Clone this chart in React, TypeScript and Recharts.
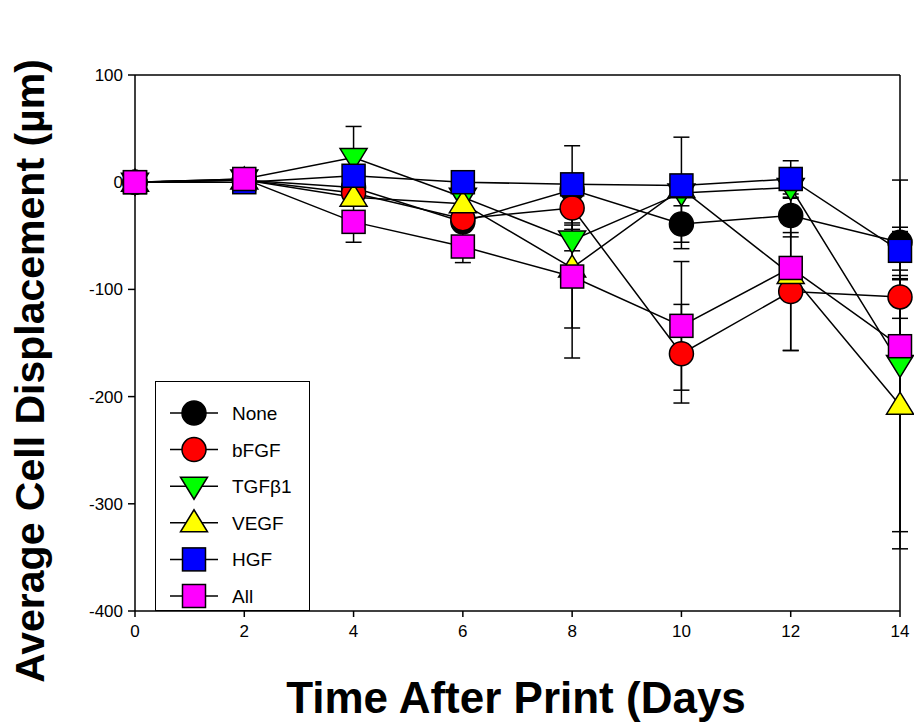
import React from "react";
import {
  LineChart,
  Line,
  XAxis,
  YAxis,
  ErrorBar,
  Legend,
  ReferenceLine,
} from "recharts";

// days after print
const days = [0, 2, 4, 6, 8, 10, 12, 14];

// mean displacement (um)
const noneVals = [0, 2, -5, -37, -7, -39, -31, -56];
const bfgfVals = [0, 2, -10, -34, -24, -160, -102, -107];
const tgfVals = [0, 3, 23, -14, -54, -10, -5, -170];
const vegfVals = [0, 2, -14, -20, -80, -6, -86, -208];
const hgfVals = [0, 0, 6, 0, -2, -3, 3, -64];
const allVals = [0, 3, -37, -60, -88, -134, -80, -153];

// error bar half-widths
const noneErr = [3, 3, 8, 5, 41, 17, 20, 14];
const bfgfErr = [3, 3, 5, 5, 14, 46, 55, 20];
const tgfErr = [3, 3, 29, 6, 10, 52, 10, 172];
const vegfErr = [3, 3, 5, 6, 84, 8, 8, 118];
const hgfErr = [3, 3, 5, 4, 6, 5, 17, 18];
const allErr = [3, 3, 19, 15, 48, 60, 77, 62];

const xTicks = [0, 2, 4, 6, 8, 10, 12, 14];
const yTicks = [-400, -300, -200, -100, 0, 100];

type Shape = "circle" | "down" | "up" | "square";

const series: { key: string; name: string; shape: Shape; color: string }[] = [
  { key: "none", name: "None", shape: "circle", color: "#000000" },
  { key: "bfgf", name: "bFGF", shape: "circle", color: "#ff0000" },
  { key: "tgf", name: "TGF\u03b21", shape: "down", color: "#00ff00" },
  { key: "vegf", name: "VEGF", shape: "up", color: "#ffff00" },
  { key: "hgf", name: "HGF", shape: "square", color: "#0000ff" },
  { key: "all", name: "All", shape: "square", color: "#ff00ff" },
];

const data = days.map((day, i) => ({
  day,
  none: noneVals[i],
  noneErr: noneErr[i],
  bfgf: bfgfVals[i],
  bfgfErr: bfgfErr[i],
  tgf: tgfVals[i],
  tgfErr: tgfErr[i],
  vegf: vegfVals[i],
  vegfErr: vegfErr[i],
  hgf: hgfVals[i],
  hgfErr: hgfErr[i],
  all: allVals[i],
  allErr: allErr[i],
}));

const tickFont = "'Liberation Sans Narrow', 'Arial Narrow', 'Liberation Sans', Arial, sans-serif";

function Marker({ cx, cy, shape, fill }: { cx: number; cy: number; shape: Shape; fill: string }) {
  if (cx == null || cy == null) return null;
  const common = { fill, stroke: "#000", strokeWidth: 1.5 };
  if (shape === "circle") return <circle cx={cx} cy={cy} r={12} {...common} />;
  if (shape === "square")
    return <rect x={cx - 11.5} y={cy - 11.5} width={23} height={23} {...common} />;
  if (shape === "down")
    return (
      <polygon
        points={`${cx - 13.5},${cy - 9} ${cx + 13.5},${cy - 9} ${cx},${cy + 13}`}
        {...common}
      />
    );
  return (
    <polygon
      points={`${cx - 13.5},${cy + 9} ${cx + 13.5},${cy + 9} ${cx},${cy - 13}`}
      {...common}
    />
  );
}

function LegendBox() {
  return (
    <div
      style={{
        width: 155,
        height: 230,
        border: "1.5px solid #000",
        background: "#fff",
        boxSizing: "border-box",
      }}
    >
      <svg width={153} height={228}>
        {series.map((s, i) => {
          const y = 31 + i * 36.6;
          return (
            <g key={s.key}>
              <line x1={14} x2={62} y1={y} y2={y} stroke="#000" strokeWidth={1.5} />
              <Marker cx={38} cy={y} shape={s.shape} fill={s.color} />
              <text
                x={76}
                y={y + 7}
                fontSize={19}
                fontFamily={tickFont}
                fill="#000"
              >
                {s.name}
              </text>
            </g>
          );
        })}
      </svg>
    </div>
  );
}

export default function App() {
  return (
    <div style={{ position: "absolute", left: 0, top: 0, width: 914, height: 724, background: "#fff" }}>
      <LineChart
        width={914}
        height={724}
        data={data}
        margin={{ top: 75, right: 14, bottom: 73, left: 75 }}
      >
        <XAxis
          dataKey="day"
          type="number"
          domain={[0, 14]}
          ticks={xTicks}
          height={40}
          tickSize={6}
          tickMargin={8}
          axisLine={{ stroke: "#000", strokeWidth: 1.5 }}
          tickLine={{ stroke: "#000", strokeWidth: 1.5 }}
          tick={{ fill: "#000", fontSize: 17, fontFamily: tickFont }}
        />
        <YAxis
          type="number"
          domain={[-400, 100]}
          ticks={yTicks}
          width={60}
          tickSize={7}
          tickMargin={5}
          axisLine={{ stroke: "#000", strokeWidth: 1.5 }}
          tickLine={{ stroke: "#000", strokeWidth: 1.5 }}
          tick={{ fill: "#000", fontSize: 17, fontFamily: tickFont }}
        />
        <ReferenceLine y={100} stroke="#000" strokeWidth={1.5} />
        <ReferenceLine x={14} stroke="#000" strokeWidth={1.5} />
        {series.map((s) => (
          <Line
            key={s.key}
            dataKey={s.key}
            name={s.name}
            type="linear"
            stroke="#000"
            strokeWidth={1.5}
            isAnimationActive={false}
            dot={(p: any) => (
              <Marker key={`${s.key}-${p.index}`} cx={p.cx} cy={p.cy} shape={s.shape} fill={s.color} />
            )}
            activeDot={false}
          >
            <ErrorBar dataKey={`${s.key}Err`} width={8} stroke="#000" strokeWidth={1.5} />
          </Line>
        ))}
        <Legend
          layout="vertical"
          align="center"
          verticalAlign="middle"
          content={() => <LegendBox />}
          wrapperStyle={{ position: "absolute", left: 155, top: 381, width: 155, height: 230 }}
        />
      </LineChart>
      <div
        style={{
          position: "absolute",
          left: 30,
          top: 371,
          transform: "translate(-50%, -50%) rotate(-90deg)",
          whiteSpace: "nowrap",
          fontFamily: "'Liberation Sans', Arial, sans-serif",
          fontWeight: 900,
          fontSize: 41,
          color: "#000",
        }}
      >
        Average Cell Displacement (µm)
      </div>
      <div
        style={{
          position: "absolute",
          left: 516,
          top: 698,
          transform: "translate(-50%, -50%)",
          whiteSpace: "nowrap",
          fontFamily: "'Liberation Sans', Arial, sans-serif",
          fontWeight: 700,
          fontSize: 44,
          color: "#000",
        }}
      >
        Time After Print (Days
      </div>
    </div>
  );
}
